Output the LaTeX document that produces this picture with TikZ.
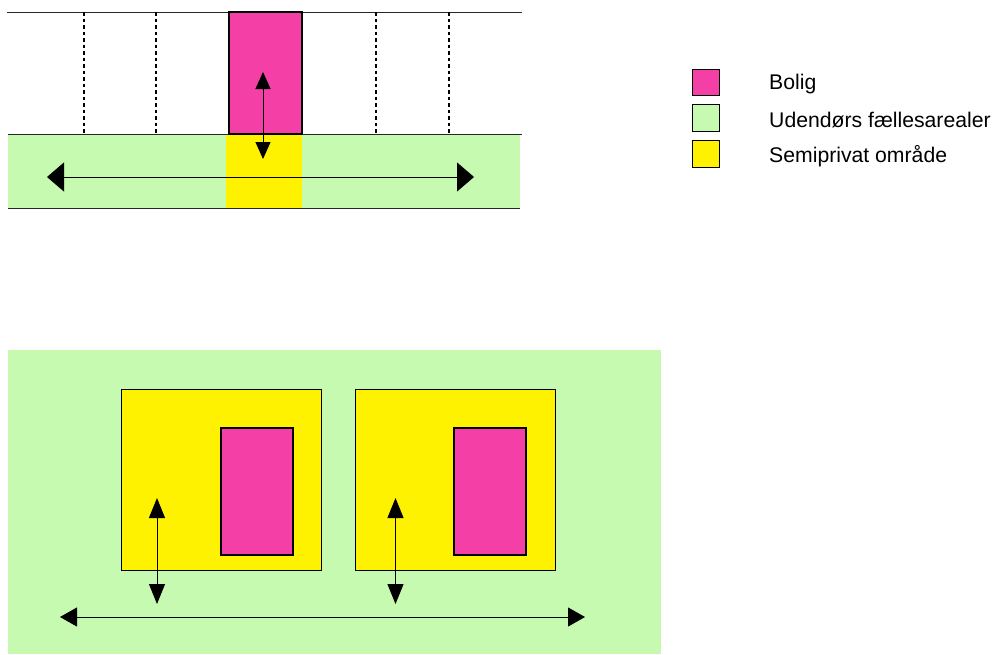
\documentclass[tikz,border=0pt]{standalone}
\usepackage{fontspec}
\setmainfont{Liberation Sans}
\usetikzlibrary{arrows.meta}
\definecolor{pinkc}{HTML}{F43FA6}
\definecolor{greenc}{HTML}{C5FAB0}
\definecolor{yellowc}{HTML}{FFF200}
\tikzset{
  area/.style={inner sep=0pt,outer sep=0pt,draw=none,minimum width=#1},
  edged/.style={inner sep=0pt,outer sep=0pt,draw=black,line width=1pt,minimum width=#1},
  housebox/.style={edged=#1,fill=pinkc,line width=2pt},
  legendbox/.style={edged=27pt,minimum height=26.5pt},
  legendtext/.style={anchor=west,inner sep=0pt,font=\fontsize{21.2pt}{24pt}\selectfont},
  rule/.style={line width=1pt,draw=black!85},
  party/.style={line width=2pt,dash pattern=on 3.5pt off 3pt},
  flowa/.style={line width=1pt,{Triangle[length=17pt,width=15pt]}-{Triangle[length=17pt,width=15pt]}},
  flowb/.style={line width=1pt,{Triangle[length=17pt,width=29pt]}-{Triangle[length=17pt,width=29pt]}},
  flowc/.style={line width=1pt,{Triangle[length=20pt,width=16pt]}-{Triangle[length=20pt,width=16pt]}},
  flowd/.style={line width=1pt,{Triangle[length=17pt,width=19pt]}-{Triangle[length=17pt,width=19pt]}},
}
\begin{document}
\begin{tikzpicture}[x=1pt,y=-1pt]
\useasboundingbox (0,0) rectangle (994,654);
% top section
\node[area=512pt,minimum height=74pt,fill=greenc] (gtop) at (264,171) {};
\node[area=76pt,minimum height=74pt,fill=yellowc] (ytop) at (264,171) {};
\coordinate (t1) at (7,12); \coordinate (t2) at (522,12);
\coordinate (m1) at (8,134); \coordinate (m2) at (522,134);
\coordinate (b1) at (8,208); \coordinate (b2) at (520,208);
\draw[rule] (t1) -- (t2);
\draw[rule] (m1) -- (m2);
\draw[rule] (b1) -- (b2);
\foreach \n/\x in {a/84,b/155.5,c/376,d/449}{
  \coordinate (d\n t) at (\x,12);
  \coordinate (d\n b) at (\x,134);
  \draw[party] (d\n t) -- (d\n b);
}
\node[housebox=73pt,minimum height=122pt] (htop) at (265.5,73) {};
\coordinate (va) at (263,72); \coordinate (vb) at (263,159);
\coordinate (ha) at (47,177); \coordinate (hb) at (474,177);
\draw[flowa] (va) -- (vb);
\draw[flowb] (ha) -- (hb);
% legend
\node[legendbox,fill=pinkc] (lp) at (705.8,82.5) {};
\node[legendbox,fill=greenc] (lg) at (705.8,118) {};
\node[legendbox,fill=yellowc] (ly) at (705.8,154) {};
\node[legendtext] (tp) at (769,84) {Bolig};
\node[legendtext] (tg) at (769,120) {Udendørs fællesarealer};
\node[legendtext] (ty) at (769,156) {Semiprivat område};
% bottom section
\node[area=653pt,minimum height=304pt,fill=greenc] (gbot) at (334.5,502) {};
\node[edged=200pt,minimum height=181pt,fill=yellowc] (y1) at (221,479.5) {};
\node[edged=200pt,minimum height=181pt,fill=yellowc] (y2) at (455,479.5) {};
\node[housebox=72pt,minimum height=127pt] (h1) at (257,491.5) {};
\node[housebox=72pt,minimum height=127pt] (h2) at (490.3,491.5) {};
\coordinate (a1) at (157,498); \coordinate (a2) at (157,604);
\coordinate (c1) at (395.5,498); \coordinate (c2) at (395.5,604);
\coordinate (e1) at (60,617); \coordinate (e2) at (585,617);
\draw[flowc] (a1) -- (a2);
\draw[flowc] (c1) -- (c2);
\draw[flowd] (e1) -- (e2);
\end{tikzpicture}
\end{document}
